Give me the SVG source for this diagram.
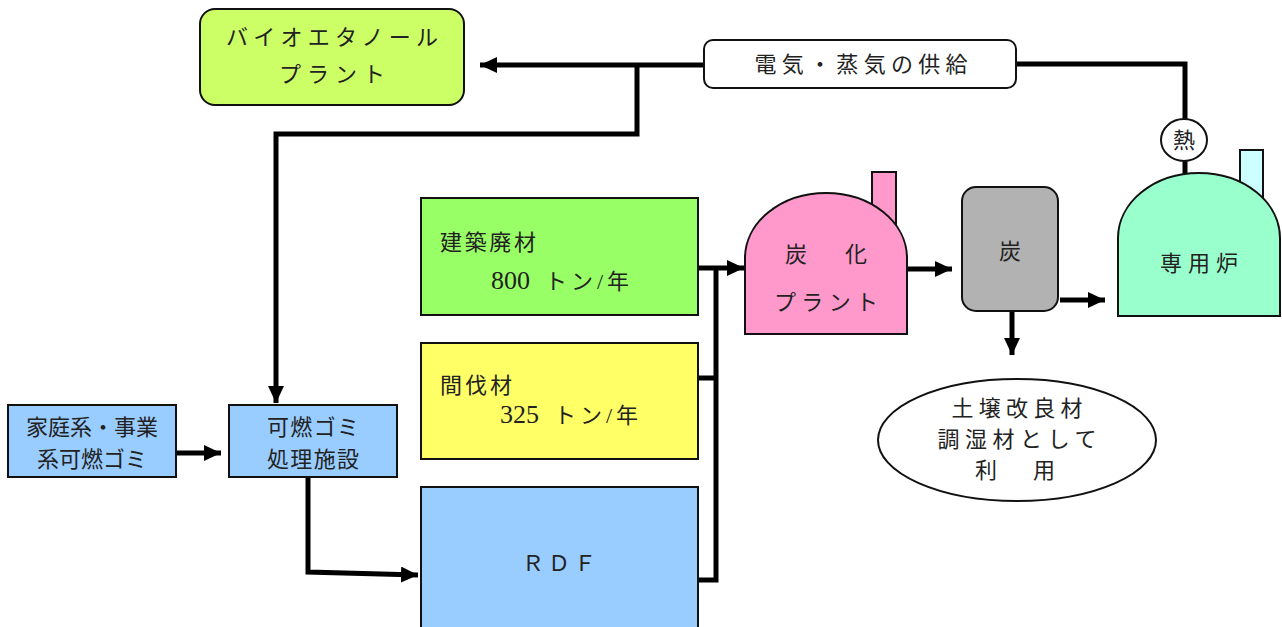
<svg xmlns="http://www.w3.org/2000/svg" width="1282" height="627" viewBox="0 0 1282 627">
<style>
text{font-family:"Liberation Serif","Noto Sans CJK JP",serif;font-size:22px;fill:#222;}
.c{text-anchor:middle;}
.num{font-size:26px;font-family:"Liberation Serif",serif;}
.unit{letter-spacing:4px;}
.box{stroke:#111;stroke-width:2;}
.ln{fill:none;stroke:#000;stroke-width:5;stroke-linejoin:miter;}
</style>
<defs>
<marker id="ah" markerUnits="userSpaceOnUse" markerWidth="18" markerHeight="18" refX="17" refY="8" orient="auto">
<path d="M0,0 L17,8 L0,16 Z" fill="#000"/>
</marker>
</defs>
<rect width="1282" height="627" fill="#fff"/>
<g id="connectors">
<polyline class="ln" points="705,65 480,65" marker-end="url(#ah)"/>
<polyline class="ln" points="637,65 637,134 276,134 276,403" marker-end="url(#ah)"/>
<polyline class="ln" points="1016,64 1185,64 1185,120"/>
<line class="ln" x1="1185" y1="160" x2="1185" y2="178"/>
<polyline class="ln" points="176,453 221,453" marker-end="url(#ah)"/>
<polyline class="ln" points="308,477 308,572 418,575" marker-end="url(#ah)"/>
<polyline class="ln" points="698,268 744,268" marker-end="url(#ah)"/>
<polyline class="ln" points="716,268 716,580 698,580"/>
<line class="ln" x1="698" y1="378" x2="716" y2="378"/>
<polyline class="ln" points="906,269 952,269" marker-end="url(#ah)"/>
<polyline class="ln" points="1060,300 1105,300" marker-end="url(#ah)"/>
<polyline class="ln" points="1012,312 1012,355" marker-end="url(#ah)"/>
</g>
<g id="bioethanol">
<rect class="box" x="200" y="9" width="264" height="96" rx="15" fill="#ccff66"/>
<text class="c" x="332" y="45" textLength="212" lengthAdjust="spacing">バイオエタノール</text>
<text class="c" x="332" y="82" textLength="106" lengthAdjust="spacing">プラント</text>
</g>
<g id="supply">
<rect class="box" x="704" y="40" width="312" height="48" rx="9" fill="#fff"/>
<text class="c" x="861" y="72" textLength="213" lengthAdjust="spacing">電気・蒸気の供給</text>
</g>
<g id="heat">
<ellipse class="box" cx="1184" cy="140" rx="23" ry="21" fill="#fff"/>
<text class="c" x="1184" y="148">熱</text>
</g>
<g id="furnace">
<rect class="box" x="1240" y="150" width="23" height="60" fill="#ccffff"/>
<path class="box" d="M1118,316 L1118,238 A81,65 0 0 1 1280,238 L1280,316 Z" fill="#99ffcc"/>
<text class="c" x="1199" y="271" textLength="78" lengthAdjust="spacing">専用炉</text>
</g>
<g id="carbonization">
<rect class="box" x="872" y="172" width="24" height="60" fill="#ff99cc"/>
<path class="box" d="M745,334 L745,258 A81,65 0 0 1 907,258 L907,334 Z" fill="#ff99cc"/>
<text class="c" x="826" y="262" textLength="82" lengthAdjust="spacing">炭　化</text>
<text class="c" x="826" y="310" textLength="104" lengthAdjust="spacing">プラント</text>
</g>
<g id="charcoal">
<rect class="box" x="962" y="187" width="96" height="124" rx="14" fill="#b2b2b2"/>
<text class="c" x="1010" y="259">炭</text>
</g>
<g id="use">
<ellipse class="box" cx="1017" cy="440" rx="139" ry="61" fill="#fff"/>
<text class="c" x="1017" y="416" textLength="131" lengthAdjust="spacing">土壌改良材</text>
<text class="c" x="1017" y="447" textLength="159" lengthAdjust="spacing">調湿材として</text>
<text class="c" x="1015" y="478" textLength="80" lengthAdjust="spacing">利　用</text>
</g>
<g id="construction">
<rect class="box" x="421" y="198" width="277" height="117" fill="#99ff66"/>
<text x="440" y="250" textLength="96" lengthAdjust="spacing">建築廃材</text>
<text x="491" y="289"><tspan class="num">800</tspan> <tspan class="unit" x="545">トン/年</tspan></text>
</g>
<g id="thinning">
<rect class="box" x="421" y="343" width="277" height="116" fill="#ffff66"/>
<text x="440" y="393" textLength="72" lengthAdjust="spacing">間伐材</text>
<text x="500" y="423"><tspan class="num">325</tspan> <tspan class="unit" x="554">トン/年</tspan></text>
</g>
<g id="rdf">
<rect class="box" x="421" y="487" width="277" height="145" fill="#99ccff"/>
<text class="c" x="559" y="571" textLength="74" lengthAdjust="spacing">ＲＤＦ</text>
</g>
<g id="household">
<rect class="box" x="8" y="405" width="168" height="72" fill="#99ccff"/>
<text class="c" x="92" y="435" textLength="132" lengthAdjust="spacing">家庭系・事業</text>
<text class="c" x="92" y="467" textLength="110" lengthAdjust="spacing">系可燃ゴミ</text>
</g>
<g id="facility">
<rect class="box" x="229" y="405" width="168" height="72" fill="#99ccff"/>
<text class="c" x="313" y="435" textLength="92" lengthAdjust="spacing">可燃ゴミ</text>
<text class="c" x="313" y="467" textLength="92" lengthAdjust="spacing">処理施設</text>
</g>
</svg>
